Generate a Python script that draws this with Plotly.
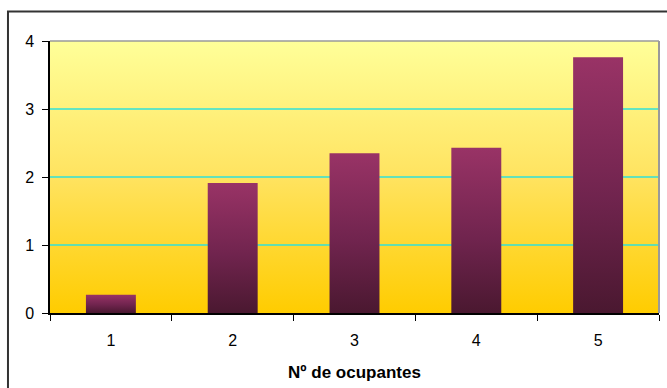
import plotly.graph_objects as go

# Data
categories = [1, 2, 3, 4, 5]
values = [0.27, 1.91, 2.35, 2.43, 3.76]
y_ticks = [0, 1, 2, 3, 4]
x_title = "Nº de ocupantes"

BAR_HALF = 0.205
X_MIN, X_MAX = 0.5, 5.5
Y_MIN, Y_MAX = 0, 4

FONT = "Liberation Sans, Arial, sans-serif"
TICK_FONT = dict(family=FONT, size=16, color="black")

fig = go.Figure()

# Plot-area background: vertical gradient from gold (bottom) to pale yellow (top)
fig.add_trace(go.Scatter(
    x=[X_MIN, X_MAX, X_MAX, X_MIN, X_MIN],
    y=[Y_MIN, Y_MIN, Y_MAX, Y_MAX, Y_MIN],
    mode="lines", line=dict(width=0), fill="toself",
    fillgradient=dict(type="vertical",
                      colorscale=[[0, "#FFCC00"], [0.5, "#FFE360"], [1, "#FFFF99"]]),
    hoverinfo="skip", showlegend=False,
))

# Horizontal gridlines (drawn over the background, under the bars)
gx, gy = [], []
for t in y_ticks[1:-1]:
    gx += [X_MIN, X_MAX, None]
    gy += [t, t, None]
fig.add_trace(go.Scatter(
    x=gx, y=gy, mode="lines", line=dict(color="#30E0D8", width=1.3),
    hoverinfo="skip", showlegend=False,
))

# Bars with a dark-to-magenta vertical gradient
for c, v in zip(categories, values):
    fig.add_trace(go.Scatter(
        x=[c - BAR_HALF, c + BAR_HALF, c + BAR_HALF, c - BAR_HALF, c - BAR_HALF],
        y=[0, 0, v, v, 0],
        mode="lines", line=dict(width=0), fill="toself",
        fillgradient=dict(type="vertical",
                          colorscale=[[0, "#4A1830"], [0.45, "#70244E"], [1, "#993366"]]),
        hoverinfo="skip", showlegend=False,
    ))

fig.update_layout(
    width=667, height=388,
    margin=dict(l=50, r=8, t=41, b=75),
    paper_bgcolor="white", plot_bgcolor="white",
    font=dict(family=FONT, size=16, color="black"),
    showlegend=False,
    xaxis=dict(
        range=[X_MIN, X_MAX], tickvals=categories, ticktext=[str(c) for c in categories],
        tickfont=TICK_FONT,
        ticks="", showgrid=False, zeroline=False,
        showline=True, linecolor="black", linewidth=1.5,
        minor=dict(tickvals=[c + 0.5 for c in [0] + categories], ticks="outside",
                   ticklen=6, tickcolor="black", tickwidth=1),
        ticklabelstandoff=12,
        title=dict(text="<b>" + x_title + "</b>",
                   font=dict(family=FONT, size=17, color="black"), standoff=18),
        fixedrange=True,
    ),
    yaxis=dict(
        range=[Y_MIN, Y_MAX], tickvals=y_ticks, tickfont=TICK_FONT,
        ticks="outside", ticklen=6,
        tickcolor="black", showgrid=False, zeroline=False,
        showline=True, linecolor="black", linewidth=1.5,
        ticklabelstandoff=5, fixedrange=True,
    ),
    shapes=[
        # top and right edges of the plot area
        dict(type="line", xref="paper", yref="paper", x0=0, x1=1, y0=1, y1=1,
             line=dict(color="#9A9A9A", width=1.5)),
        dict(type="line", xref="paper", yref="paper", x0=1, x1=1, y0=0, y1=1,
             line=dict(color="#9A9A9A", width=2)),
        # outer chart frame
        dict(type="rect", xref="paper", yref="paper",
             x0=-0.069, x1=1.03, y0=-0.3, y1=1.108,
             line=dict(color="#333333", width=2), fillcolor="rgba(0,0,0,0)", layer="above"),
    ],
)

fig.write_html("out.html")
